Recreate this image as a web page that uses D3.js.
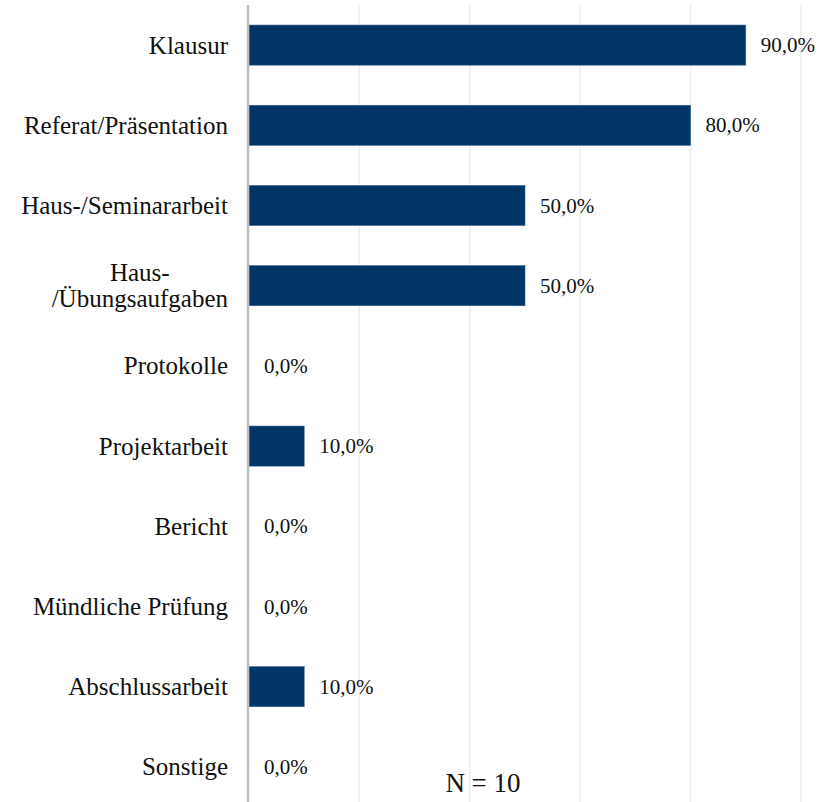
<!DOCTYPE html>
<html>
<head>
<meta charset="utf-8">
<script src="https://cdn.jsdelivr.net/npm/d3@7"></script>
<style>
  body { margin: 0; background: #fff; }
  svg { display: block; font-family: "Times New Roman", "Liberation Serif", serif; }
</style>
</head>
<body>
<svg id="chart" width="827" height="802"></svg>
<script>
// Data
const categories = [
  "Klausur",
  "Referat/Präsentation",
  "Haus-/Seminararbeit",
  "Haus-/Übungsaufgaben",
  "Protokolle",
  "Projektarbeit",
  "Bericht",
  "Mündliche Prüfung",
  "Abschlussarbeit",
  "Sonstige"
];
// label lines (wrapped as in original)
const labelLines = {
  "Haus-/Übungsaufgaben": ["Haus-", "/Übungsaufgaben"]
};
const values = [0.9, 0.8, 0.5, 0.5, 0.0, 0.1, 0.0, 0.0, 0.1, 0.0];
const gridTicks = [0.2, 0.4, 0.6, 0.8, 1.0];
const note = "N = 10";

const svg = d3.select("#chart");

const x = d3.scaleLinear().domain([0, 1]).range([249, 801]);
const y = d3.scaleBand().domain(categories).range([5, 807]).paddingInner(0.5).paddingOuter(0.25);

const fmt = v => d3.format(".1f")(v * 100).replace(".", ",") + "%";

// Gridlines
svg.append("g")
  .selectAll("line")
  .data(gridTicks)
  .join("line")
  .attr("x1", d => x(d)).attr("x2", d => x(d))
  .attr("y1", 5).attr("y2", 802)
  .attr("stroke", "#eeeeee")
  .attr("stroke-width", 1.5);

// Bars
svg.append("g")
  .selectAll("rect")
  .data(values)
  .join("rect")
  .attr("x", x(0))
  .attr("y", (d, i) => y(categories[i]))
  .attr("width", d => x(d) - x(0))
  .attr("height", y.bandwidth())
  .attr("fill", "#003566")
  .attr("stroke", d => d > 0 ? "#3b6593" : "none")
  .attr("stroke-width", 0.6);

// Axis line
svg.append("line")
  .attr("x1", 248).attr("x2", 248)
  .attr("y1", 5).attr("y2", 802)
  .attr("stroke", "#bfbfbf")
  .attr("stroke-width", 2.5);

// Value labels
svg.append("g")
  .selectAll("text")
  .data(values)
  .join("text")
  .attr("x", d => x(d) + 15)
  .attr("y", (d, i) => y(categories[i]) + y.bandwidth() / 2)
  .attr("dominant-baseline", "central")
  .attr("font-size", 21)
  .attr("fill", "#111")
  .text(d => fmt(d));

// Category labels
const labels = svg.append("g");
categories.forEach(c => {
  const lines = labelLines[c] || [c];
  const cy = y(c) + y.bandwidth() / 2;
  const t = labels.append("text")
    .attr("font-size", 25)
    .attr("fill", "#111")
    .attr("text-anchor", "end");
  const lh = 26;
  lines.forEach((ln, j) => {
    t.append("tspan")
      .attr("x", 228)
      .attr("y", cy + (j - (lines.length - 1) / 2) * lh)
      .attr("dominant-baseline", "central")
      .text(ln);
  });
  if (lines.length > 1) {
    // centre the lines on each other, block right-aligned
    const w = d3.max(t.selectAll("tspan").nodes(), n => n.getComputedTextLength());
    t.attr("text-anchor", "middle");
    t.selectAll("tspan").attr("x", 228 - w / 2);
  }
});

// Note
svg.append("text")
  .attr("x", 483)
  .attr("y", 792)
  .attr("text-anchor", "middle")
  .attr("font-size", 27)
  .attr("fill", "#111")
  .text(note);
</script>
</body>
</html>
